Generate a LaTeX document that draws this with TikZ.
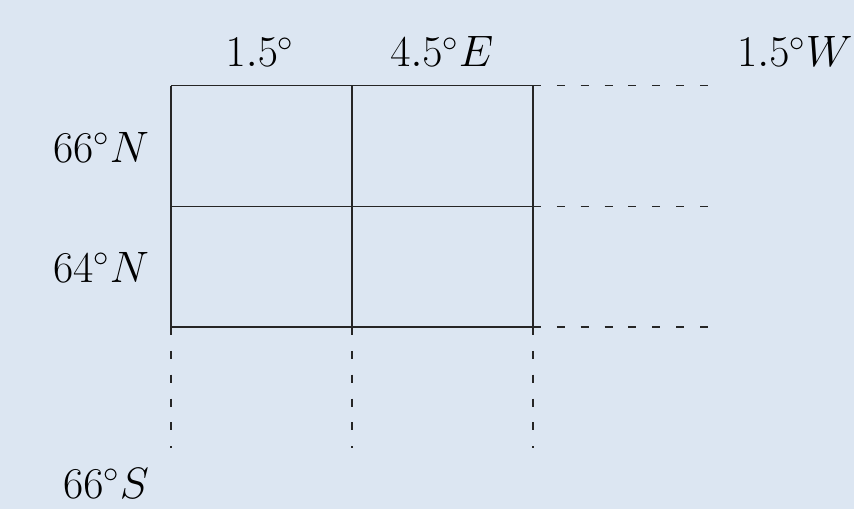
\documentclass[tikz,border=0pt]{standalone}
\usepackage{tikz}
\usetikzlibrary{positioning}
\definecolor{bgblue}{HTML}{DCE6F2}

\begin{document}
\begin{tikzpicture}[font=\fontsize{21.5pt}{26pt}\selectfont,
    gridline/.style={line width=0.5pt, black!85},
    extline/.style={line width=0.5pt, black!85, dash pattern=on 3.75pt off 7.5pt},
    toplabel/.style={anchor=base, inner sep=0pt},
    sidelabel/.style={anchor=base east, inner sep=0pt}]
    \fill[bgblue] (-2.834,-3.017) rectangle (11.32,5.42);
    \useasboundingbox (-2.834,-3.017) rectangle (11.32,5.42);
    % grid
    \foreach \x in {0,3,6} \draw[gridline] (\x,0) -- (\x,4);
    \foreach \y in {0,2,4} \draw[gridline] (0,\y) -- (6,\y);
    % continuation
    \foreach \y in {0,2,4} \draw[extline] (6,\y) -- (9,\y);
    \foreach \x in {0,3,6} \draw[extline] (\x,0) -- (\x,-2);
    % labels
    \node[toplabel] (lonA) at (1.475,4.31) {$1.5^\circ$};
    \node[toplabel] (lonB) at (4.49,4.31) {$4.5^\circ E$};
    \node[toplabel] (lonC) at (10.34,4.31) {$1.5^\circ W$};
    \node[sidelabel] (latA) at (-0.36,2.735) {$66^\circ N$};
    \node[sidelabel] (latB) at (-0.36,0.746) {$64^\circ N$};
    \node[sidelabel] (latC) at (-0.36,-2.834) {$66^\circ S$};
\end{tikzpicture}
\end{document}
